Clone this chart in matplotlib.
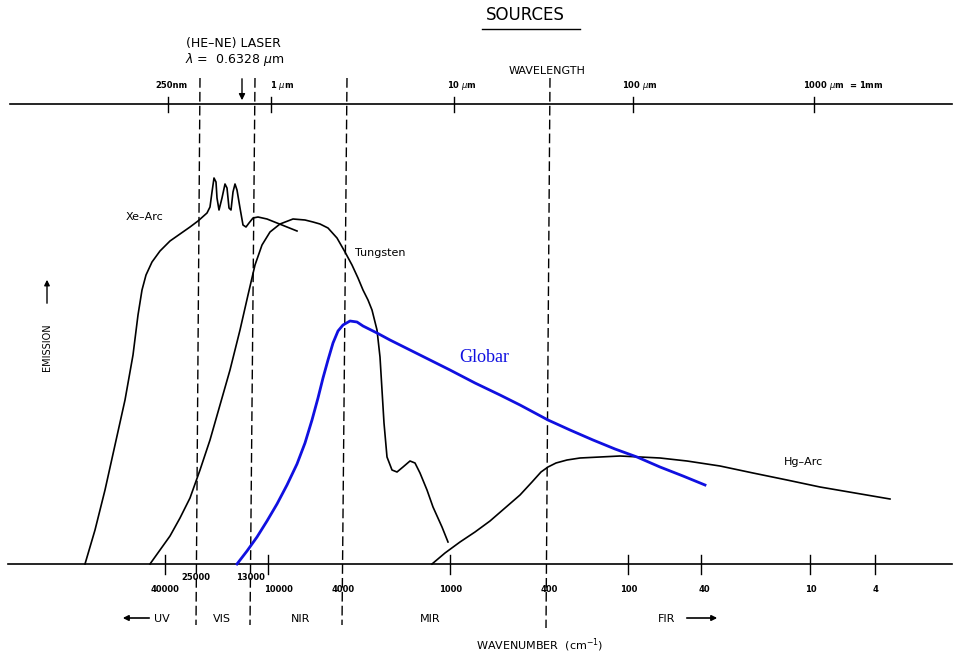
import numpy as np
import matplotlib.pyplot as plt

# schematic: coordinates are in picture units (x right, y down), baseline at y=564
baseline_y = 564
top_axis_y = 104

# emission curves
xe_x = [85, 95, 105, 115, 125, 133, 138, 142, 146, 152, 160, 170, 180, 190, 198, 207,
        210, 212, 214, 216, 217, 219, 222, 225, 227, 229, 231, 233, 235, 237, 240, 243,
        246, 249, 253, 258, 267, 277, 287, 297]
xe_y = [564, 530, 490, 445, 400, 355, 315, 290, 275, 262, 251, 241, 234, 227, 221, 213,
        207, 192, 178, 182, 198, 210, 198, 184, 188, 208, 210, 192, 184, 190, 208, 225,
        227, 223, 218, 217, 219, 223, 227, 231]

tung_x = [150, 160, 170, 180, 190, 200, 210, 220, 230, 240, 248, 255, 262, 270, 280, 293,
          305, 313, 320, 328, 337, 345, 352, 358, 363, 368, 372, 377, 380, 382, 384, 387,
          392, 397, 403, 410, 415, 420, 427, 433, 442, 448]
tung_y = [564, 550, 536, 518, 498, 470, 440, 405, 370, 330, 295, 265, 245, 232, 224, 219,
          220, 222, 224, 228, 238, 252, 265, 278, 290, 300, 310, 330, 357, 390, 423, 457,
          470, 472, 467, 461, 463, 473, 490, 507, 527, 542]

globar_x = [237, 247, 257, 267, 277, 287, 297, 305, 312, 318, 323, 328, 333, 338, 343, 350,
            357, 363, 377, 390, 410, 430, 450, 475, 500, 520, 548, 570, 593, 615, 637, 660,
            683, 705]
globar_y = [564, 551, 537, 521, 504, 485, 464, 443, 420, 398, 378, 360, 343, 331, 325, 321,
            322, 326, 333, 340, 350, 360, 370, 383, 395, 405, 420, 430, 440, 449, 457, 467,
            476, 485]

hg_x = [432, 445, 460, 475, 490, 505, 520, 532, 541, 548, 556, 567, 580, 600, 620, 640,
        660, 687, 720, 753, 787, 820, 855, 890]
hg_y = [564, 553, 542, 532, 521, 508, 495, 482, 472, 467, 463, 460, 458, 457, 456, 457,
        458, 461, 466, 473, 480, 487, 493, 499]

# region boundaries (dashed): top x, bottom x
bound_top = [200, 255, 347, 550]
bound_bot = [196, 250, 342, 546]
bound_end = [625, 625, 625, 628]

# bottom wavenumber axis
wn_tick_x = [165, 268, 450, 628, 701, 810, 875]
wn_labels = ['40000', '25000', '13000', '10000', '4000', '1000', '400', '100', '40', '10', '4']
wn_label_x = [165, 196, 250, 278, 343, 451, 549, 629, 704, 811, 876]
wn_label_y = [589, 578, 578, 589, 589, 589, 589, 589, 589, 589, 589]

# top wavelength axis
wl_tick_x = [168, 271, 454, 633, 814]
wl_labels = ['250nm', '1 $\\mu$m', '10 $\\mu$m', '100 $\\mu$m', '1000 $\\mu$m  = 1mm']
wl_label_x = [171, 270, 447, 622, 803]
wl_label_ha = ['center', 'left', 'left', 'left', 'left']

regions = ['UV', 'VIS', 'NIR', 'MIR', 'FIR']
region_x = [162, 222, 301, 430, 667]

fig = plt.figure(figsize=(9.56, 6.57), dpi=100)
ax = fig.add_axes([0, 0, 1, 1])
ax.set_xlim(0, 956)
ax.set_ylim(657, 0)
ax.axis('off')

# axes lines
ax.plot([8, 952], [baseline_y, baseline_y], color='black', lw=1.2)
ax.plot([10, 952], [top_axis_y, top_axis_y], color='black', lw=1.2)
for x in wn_tick_x:
    ax.plot([x, x], [555, 574], color='black', lw=1)
for x in wl_tick_x:
    ax.plot([x, x], [97, 112], color='black', lw=1)

for xt, xb, ye in zip(bound_top, bound_bot, bound_end):
    ax.plot([xt, xb], [78, ye], color='black', lw=1, linestyle=(0, (7, 3)))

# curves
kw = dict(color='black', lw=1.2, solid_joinstyle='round')
ax.plot(xe_x, xe_y, **kw)
ax.plot(tung_x, tung_y, **kw)
ax.plot(hg_x, hg_y, **kw)
ax.plot(globar_x, globar_y, color='#1010e0', lw=2, solid_joinstyle='round')

# texts
sans = 'DejaVu Sans'
ax.text(525, 15, 'SOURCES', ha='center', va='center', fontsize=12, family=sans)
ax.plot([482, 580], [29, 29], color='black', lw=1)
ax.text(233, 43, '(HE\u2013NE) LASER', ha='center', va='center', fontsize=9, family=sans)
ax.text(235, 59, '$\\lambda$ =  0.6328 $\\mu$m', ha='center', va='center', fontsize=9, family=sans)
ax.annotate('', xy=(242, 103), xytext=(242, 76),
            arrowprops=dict(arrowstyle='-|>', color='black', lw=1, mutation_scale=9))
ax.text(547, 71, 'WAVELENGTH', ha='center', va='center', fontsize=8, family=sans)

for lab, x, ha in zip(wl_labels, wl_label_x, wl_label_ha):
    ax.text(x, 85, lab, ha=ha, va='center', fontsize=6, family=sans, fontweight='bold')
for lab, x, y in zip(wn_labels, wn_label_x, wn_label_y):
    ax.text(x, y, lab, ha='center', va='center', fontsize=6, family=sans, fontweight='bold')

for lab, x in zip(regions, region_x):
    ax.text(x, 619, lab, ha='center', va='center', fontsize=8, family=sans)
ax.annotate('', xy=(120, 618), xytext=(152, 618),
            arrowprops=dict(arrowstyle='-|>', color='black', lw=1.2, mutation_scale=8))
ax.annotate('', xy=(720, 618), xytext=(684, 618),
            arrowprops=dict(arrowstyle='-|>', color='black', lw=1.2, mutation_scale=8))
ax.text(540, 645, 'WAVENUMBER  (cm$^{-1}$)', ha='center', va='center', fontsize=8, family=sans)

ax.text(47, 347, 'EMISSION', ha='center', va='center', rotation=90, fontsize=7, family=sans)
ax.annotate('', xy=(47, 277), xytext=(47, 306),
            arrowprops=dict(arrowstyle='-|>', color='black', lw=1, mutation_scale=8))

ax.text(145, 217, 'Xe\u2013Arc', ha='center', va='center', fontsize=8, family=sans)
ax.text(355, 253, 'Tungsten', ha='left', va='center', fontsize=8, family=sans)
ax.text(804, 462, 'Hg\u2013Arc', ha='center', va='center', fontsize=8, family=sans)
ax.text(484, 357, 'Globar', ha='center', va='center', fontsize=13,
        family='Liberation Serif', color='#1010e0')

fig.savefig('out.png', dpi=100)
